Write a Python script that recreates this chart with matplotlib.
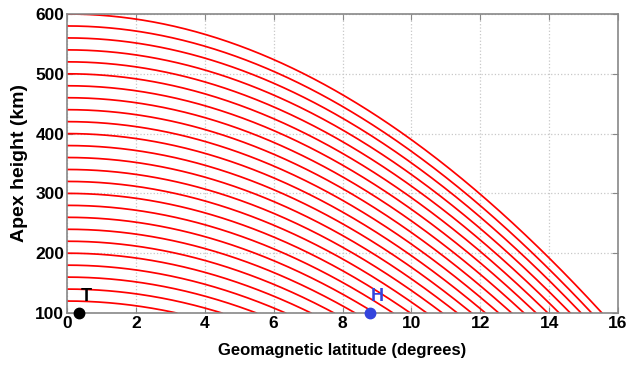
import numpy as np
import matplotlib
matplotlib.use("Agg")
import matplotlib.pyplot as plt

plt.rcParams['font.family'] = ['Liberation Sans', 'DejaVu Sans']

# Apex heights (km) of the traced dipole field lines
apex_heights = [120, 140, 160, 180, 200, 220, 240, 260, 280, 300, 320, 340,
                360, 380, 400, 420, 440, 460, 480, 500, 520, 540, 560, 580, 600]
base_height = 100.0          # km, lower end of each field line
earth_radius = 6371.0        # km

# Station markers: (latitude deg, height km, label, colour)
stations = [
    (0.35, 100, "T", "black"),
    (8.8, 100, "H", "#3344dd"),
]

x_ticks = [0, 2, 4, 6, 8, 10, 12, 14, 16]
y_ticks = [100, 200, 300, 400, 500, 600]

fig = plt.figure(figsize=(6.28, 3.67), dpi=100)
ax = fig.add_axes([67 / 628, 1 - 313 / 367, 551 / 628, 299 / 367])

for h in apex_heights:
    # dipole field line: r = L cos^2(lat)
    L = earth_radius + h
    lat_end = np.degrees(np.arccos(np.sqrt((earth_radius + base_height) / L)))
    lat = np.linspace(0, lat_end, 300)
    r = L * np.cos(np.radians(lat)) ** 2
    ax.plot(lat, r - earth_radius, color="red", lw=1.25)

for lat, h, name, col in stations:
    ax.plot(lat, h, "o", color=col, ms=7.5, clip_on=False, zorder=5)
    ax.text(lat + 0.2, h + 14, name, color=col, fontsize=13, fontweight="bold",
            ha="center", va="bottom")

ax.set_xlim(0, 16)
ax.set_ylim(100, 600)
ax.set_xticks(x_ticks)
ax.set_yticks(y_ticks)
ax.grid(True, color="#c8c8c8", linestyle=":", linewidth=0.9)
ax.tick_params(direction="in", top=True, right=True, length=4, color="#888888",
               labelsize=12.5, pad=2)
for lbl in ax.get_xticklabels() + ax.get_yticklabels():
    lbl.set_fontweight("bold")
for s in ax.spines.values():
    s.set_color("#888888")
    s.set_linewidth(1.2)

ax.set_xlabel("Geomagnetic latitude (degrees)", fontsize=12, fontweight="bold", labelpad=9)
ax.set_ylabel("Apex height (km)", fontsize=14, fontweight="bold", labelpad=5)

fig.savefig("out.png", dpi=100, facecolor="white")
